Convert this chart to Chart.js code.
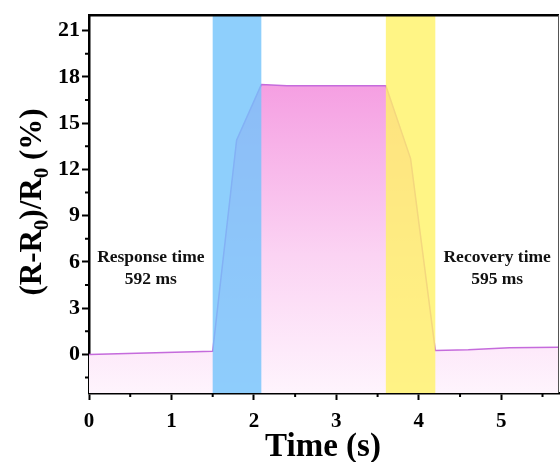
<!DOCTYPE html>
<html>
<head>
<meta charset="utf-8">
<style>
  html, body { margin: 0; padding: 0; background: #fff; }
  #wrap { width: 560px; height: 462px; }
</style>
</head>
<body>
<div id="wrap"><canvas id="chart" width="560" height="462"></canvas></div>
<script src="https://cdn.jsdelivr.net/npm/chart.js"></script>
<script>
    //data
    const timeS = [0, 1.5, 1.79, 2.09, 2.4, 3.0, 3.6, 3.9, 4.2, 4.6, 5.1, 5.7];
    const deltaR = [0, 0.21, 13.9, 17.5, 17.43, 17.42, 17.42, 12.7, 0.26, 0.3, 0.43, 0.46];

    //shaded windows: response (blue) and recovery (yellow)
    const bandStart = [1.5, 3.6];
    const bandEnd = [2.09, 4.2];
    const bandColors = ['rgba(114,195,251,0.8)', 'rgba(255,242,102,0.8)'];

    const notes = [
        { x: 0.75, lines: ['Response time', '592 ms'] },
        { x: 4.95, lines: ['Recovery time', '595 ms'] }
    ];

    const serif = '"Liberation Serif", "Times New Roman", serif';

    const extras = {
        id: 'extras',
        afterDatasetsDraw(chart) {
            const { ctx, chartArea, scales } = chart;
            ctx.save();
            bandStart.forEach((s, i) => {
                const x0 = scales.x.getPixelForValue(s);
                const x1 = scales.x.getPixelForValue(bandEnd[i]);
                ctx.fillStyle = bandColors[i];
                ctx.fillRect(x0, chartArea.top, x1 - x0, chartArea.bottom - chartArea.top);
            });
            ctx.restore();
        },
        afterDraw(chart) {
            const { ctx, chartArea, scales } = chart;
            ctx.save();
            //frame top/right
            ctx.strokeStyle = '#000';
            ctx.lineWidth = 2.5;
            ctx.beginPath();
            ctx.moveTo(chartArea.left, chartArea.top);
            ctx.lineTo(chartArea.right, chartArea.top);
            ctx.stroke();
            ctx.strokeStyle = '#555';
            ctx.lineWidth = 1;
            ctx.beginPath();
            ctx.moveTo(chartArea.right - 0.5, chartArea.top);
            ctx.lineTo(chartArea.right - 0.5, chartArea.bottom);
            ctx.stroke();

            //minor ticks
            ctx.strokeStyle = '#000';
            ctx.lineWidth = 2;
            ctx.beginPath();
            for (let v = 0.5; v < scales.x.max; v += 1) {
                const px = scales.x.getPixelForValue(v);
                ctx.moveTo(px, chartArea.bottom);
                ctx.lineTo(px, chartArea.bottom + 4);
            }
            for (let v = -1.5; v < scales.y.max; v += 3) {
                const py = scales.y.getPixelForValue(v);
                ctx.moveTo(chartArea.left, py);
                ctx.lineTo(chartArea.left - 4, py);
            }
            ctx.stroke();

            //notes
            ctx.fillStyle = '#111';
            ctx.font = 'bold 17.5px ' + serif;
            ctx.textAlign = 'center';
            ctx.textBaseline = 'middle';
            notes.forEach(n => {
                const px = scales.x.getPixelForValue(n.x);
                ctx.fillText(n.lines[0], px, 257);
                ctx.fillText(n.lines[1], px, 279);
            });

            //x title
            ctx.fillStyle = '#000';
            ctx.font = 'bold 33px ' + serif;
            ctx.textBaseline = 'alphabetic';
            ctx.fillText('Time (s)', (chartArea.left + chartArea.right) / 2 - 1, 456);

            //y title with subscripts
            const big = 'bold 31px ' + serif;
            const small = 'bold 21px ' + serif;
            const parts = [['(R-R', big, 0], ['0', small, 7], [')/R', big, 0], ['0', small, 7], [' (%)', big, 0]];
            let total = 0;
            parts.forEach(p => { ctx.font = p[1]; total += ctx.measureText(p[0]).width; });
            ctx.translate(41, 202);
            ctx.rotate(-Math.PI / 2);
            ctx.textAlign = 'left';
            let cx = -total / 2;
            parts.forEach(p => {
                ctx.font = p[1];
                ctx.fillText(p[0], cx, p[2]);
                cx += ctx.measureText(p[0]).width;
            });
            ctx.restore();
        }
    };

    new Chart(document.getElementById('chart'), {
        type: 'line',
        data: {
            labels: timeS,
            datasets: [{
                data: timeS.map((t, i) => ({ x: t, y: deltaR[i] })),
                borderColor: '#c56bdc',
                borderWidth: 1.5,
                pointRadius: 0,
                tension: 0,
                fill: 'start',
                backgroundColor: (c) => {
                    const chart = c.chart;
                    const { chartArea, scales } = chart;
                    if (!chartArea) return 'rgba(0,0,0,0)';
                    const g = chart.ctx.createLinearGradient(0, scales.y.getPixelForValue(17.5), 0, chartArea.bottom);
                    g.addColorStop(0, '#f59fe2');
                    g.addColorStop(0.55, '#fbd3f3');
                    g.addColorStop(1, '#fef4fd');
                    return g;
                }
            }]
        },
        options: {
            responsive: false,
            animation: false,
            layout: { padding: { top: 13, right: 1, left: 0, bottom: 0 } },
            plugins: { legend: { display: false }, tooltip: { enabled: false } },
            scales: {
                x: {
                    type: 'linear',
                    min: 0,
                    max: 5.7,
                    afterFit: (s) => { s.height = 69; },
                    ticks: {
                        stepSize: 1,
                        includeBounds: false,
                        color: '#000',
                        padding: 9,
                        font: { family: serif, size: 21, weight: 'bold' },
                        maxRotation: 0
                    },
                    grid: { drawOnChartArea: false, tickLength: 7, tickWidth: 2, tickColor: '#000' },
                    border: { color: '#000', width: 2.5 }
                },
                y: {
                    min: -2.5,
                    max: 22,
                    afterFit: (s) => { s.width = 89; },
                    ticks: {
                        stepSize: 3,
                        includeBounds: false,
                        color: '#000',
                        padding: 2,
                        font: { family: serif, size: 22, weight: 'bold' }
                    },
                    grid: { drawOnChartArea: false, tickLength: 7, tickWidth: 2, tickColor: '#000' },
                    border: { color: '#000', width: 2.5 }
                }
            }
        },
        plugins: [extras]
    });
</script>
</body>
</html>
